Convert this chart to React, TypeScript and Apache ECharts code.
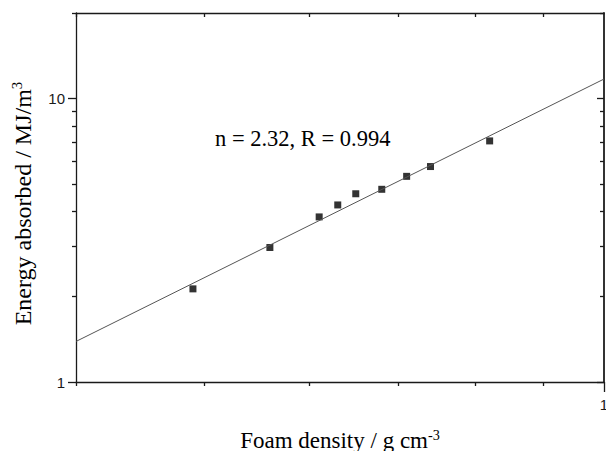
import React, { useEffect, useRef } from "react";
import * as echarts from "echarts";

// ---- data ----
const densities = [0.49, 0.56, 0.61, 0.63, 0.65, 0.68, 0.71, 0.74, 0.82];
const energies = [2.13, 2.98, 3.82, 4.21, 4.61, 4.78, 5.31, 5.75, 7.08];
const fitX = [0.4, 1];
const fitY = [1.39, 11.7];
const xRange = [0.4, 1];
const yRange = [1, 20];
const xMajorTicks = [1];
const xMinorTicks = [0.4, 0.5, 0.6, 0.7, 0.8, 0.9];
const xLabels = [1];
const yMajorTicks = [1, 10];
const yMinorTicks = [2, 3, 4, 5, 6, 7, 8, 9, 20];
const yLabels = [1, 10];
const annotation = "n = 2.32, R = 0.994";

const SERIF = "'Liberation Serif', 'Times New Roman', serif";
const SANS = "'Liberation Sans', Arial, sans-serif";
const AXIS_COLOR = "#1a1a1a";

export default function App() {
  const ref = useRef<HTMLDivElement>(null);
  useEffect(() => {
    if (!ref.current) return;
    const chart = echarts.init(ref.current, null, { renderer: "svg" });

    const baseX = (extra: any) => ({
      type: "log",
      logBase: 10,
      min: xRange[0],
      max: xRange[1],
      splitLine: { show: false },
      minorTick: { show: false },
      minorSplitLine: { show: false },
      ...extra,
    });
    const baseY = (extra: any) => ({
      type: "log",
      logBase: 10,
      min: yRange[0],
      max: yRange[1],
      splitLine: { show: false },
      minorTick: { show: false },
      minorSplitLine: { show: false },
      ...extra,
    });
    const line = (show: boolean) => ({
      show,
      onZero: false,
      lineStyle: { color: AXIS_COLOR, width: 1.3 },
    });
    const tick = (values: number[], length: number, inside: boolean) => ({
      show: true,
      inside,
      length,
      customValues: values,
      lineStyle: { color: AXIS_COLOR, width: 1.3 },
    });
    const noLabel = { show: false };
    const supStyle = (size: number) => ({
      sup: {
        fontFamily: SERIF,
        fontSize: size * 0.62,
        verticalAlign: "top",
        padding: [0, 0, size * 0.48, 0],
        color: "#000",
      },
    });

    const option: any = {
      animation: false,
      backgroundColor: "#ffffff",
      grid: {
        left: 76,
        right: 2,
        top: 13,
        bottom: 69,
        containLabel: false,
        outerBoundsMode: "none",
      },
      xAxis: [
        baseX({
          position: "bottom",
          axisLine: line(true),
          axisTick: tick(xMajorTicks, 10, false),
          axisLabel: {
            show: true,
            customValues: xLabels,
            margin: 15,
            fontFamily: SANS,
            fontSize: 15,
            color: AXIS_COLOR,
          },
          name: "Foam density / g cm{sup|-3}",
          nameLocation: "middle",
          nameGap: 46,
          nameTextStyle: {
            fontFamily: SERIF,
            fontSize: 23,
            color: "#000",
            rich: supStyle(23),
          },
        }),
        baseX({
          position: "bottom",
          axisLine: line(false),
          axisTick: tick(xMinorTicks, 4, false),
          axisLabel: noLabel,
        }),
        baseX({
          position: "top",
          axisLine: line(true),
          axisTick: tick(xMinorTicks, 4, true),
          axisLabel: noLabel,
        }),
      ],
      yAxis: [
        baseY({
          position: "left",
          axisLine: line(true),
          axisTick: tick(yMajorTicks, 8, false),
          axisLabel: {
            show: true,
            customValues: yLabels,
            margin: 11,
            fontFamily: SANS,
            fontSize: 15,
            color: AXIS_COLOR,
          },
          name: "Energy absorbed / MJ/m{sup|3}",
          nameLocation: "middle",
          nameGap: 40,
          nameRotate: 90,
          nameTextStyle: {
            fontFamily: SERIF,
            fontSize: 24,
            color: "#000",
            padding: [0, 12, 0, 0],
            rich: supStyle(24),
          },
        }),
        baseY({
          position: "left",
          axisLine: line(false),
          axisTick: tick(yMinorTicks, 4, false),
          axisLabel: noLabel,
        }),
        baseY({
          position: "right",
          axisLine: { show: true, onZero: false, lineStyle: { color: "#333", width: 2 } },
          axisTick: tick(yMajorTicks, 7, true),
          axisLabel: noLabel,
        }),
        baseY({
          position: "right",
          axisLine: line(false),
          axisTick: tick(yMinorTicks, 4, true),
          axisLabel: noLabel,
        }),
      ],
      series: [
        {
          type: "line",
          xAxisIndex: 0,
          yAxisIndex: 0,
          data: fitX.map((x, i) => [x, fitY[i]]),
          showSymbol: false,
          symbol: "none",
          lineStyle: { color: "#555", width: 1 },
          silent: true,
        },
        {
          type: "scatter",
          xAxisIndex: 0,
          yAxisIndex: 0,
          data: densities.map((x, i) => [x, energies[i]]),
          symbol: "rect",
          symbolSize: 7,
          itemStyle: { color: "#000" },
        },
      ],
      graphic: [
        {
          type: "text",
          left: 215,
          top: 127,
          style: {
            text: annotation,
            fontFamily: SERIF,
            fontSize: 22.5,
            fill: "#000",
          },
        },
      ],
    };
    chart.setOption(option);
    return () => chart.dispose();
  }, []);

  return (
    <div
      ref={ref}
      style={{ position: "fixed", left: 0, top: 0, width: 606, height: 451, background: "#fff" }}
    />
  );
}
